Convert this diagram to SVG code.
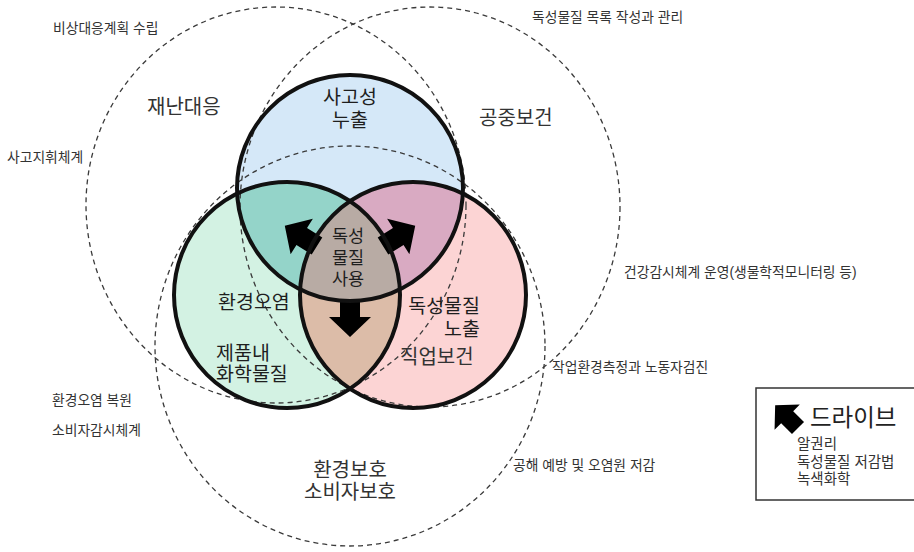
<svg xmlns="http://www.w3.org/2000/svg" width="914" height="552" viewBox="0 0 914 552">
<style>
text{font-family:"Liberation Sans","Noto Sans CJK KR",sans-serif;}
.sm{font-size:13.8px;fill:#333;}
.lg{font-size:20px;fill:#333;}
.in{font-size:19.5px;fill:#1e1e1e;}
.dash{fill:none;stroke:#3a3a3a;stroke-width:1.3;stroke-dasharray:5 4;}
.ring{fill:none;stroke:#111;stroke-width:4;}
.arr{fill:#000;}
</style>
<defs>
<clipPath id="cTop"><circle cx="350" cy="188" r="113"/></clipPath>
<clipPath id="cLeft"><circle cx="287" cy="295" r="113"/></clipPath>
<clipPath id="cRight"><circle cx="413" cy="295" r="113"/></clipPath>
<polygon id="arrow" points="0,-10 18,-10 18,-21 38,0 18,21 18,10 0,10"/>
</defs>
<rect width="914" height="552" fill="#fff"/>

<g id="fills">
<circle cx="350" cy="188" r="113" fill="#d5e8f8"/>
<circle cx="287" cy="295" r="113" fill="#d3f2e3"/>
<circle cx="413" cy="295" r="113" fill="#fcd4d4"/>
<circle cx="287" cy="295" r="113" fill="#94d4c9" clip-path="url(#cTop)"/>
<circle cx="413" cy="295" r="113" fill="#d9aac2" clip-path="url(#cTop)"/>
<circle cx="413" cy="295" r="113" fill="#dcbca8" clip-path="url(#cLeft)"/>
<g clip-path="url(#cTop)"><circle cx="413" cy="295" r="113" fill="#b8aba4" clip-path="url(#cLeft)"/></g>
</g>

<g id="dashed-circles">
<ellipse id="disaster" class="dash" cx="276" cy="205" rx="190" ry="198"/>
<ellipse id="public-health" class="dash" cx="430" cy="207" rx="190" ry="200"/>
<ellipse id="env-protection" class="dash" cx="350" cy="346" rx="195" ry="200"/>
</g>

<g id="connectors">
<use href="#arrow" class="arr" transform="translate(350,299) rotate(90)"/>
<use href="#arrow" class="arr" transform="translate(317,246) rotate(-148)"/>
<use href="#arrow" class="arr" transform="translate(383,246) rotate(-32)"/>
</g>

<g id="rings">
<circle class="ring" cx="350" cy="188" r="113"/>
<circle class="ring" cx="287" cy="295" r="113"/>
<circle class="ring" cx="413" cy="295" r="113"/>
</g>

<g id="node-accident">
<text class="in" x="350" y="104" text-anchor="middle">사고성<tspan x="350" dy="23">누출</tspan></text>
</g>
<g id="node-use">
<text class="in" x="348" y="242" text-anchor="middle" style="font-size:17.5px">독성<tspan x="348" dy="22">물질</tspan><tspan x="348" dy="21">사용</tspan></text>
</g>
<g id="node-env-pollution">
<text class="in" x="218" y="309">환경오염</text>
<text class="in" x="216" y="360">제품내<tspan x="216" dy="21">화학물질</tspan></text>
</g>
<g id="node-exposure">
<text class="in" x="480" y="313" text-anchor="end">독성물질<tspan x="480" dy="23">노출</tspan></text>
</g>
<g id="node-disaster">
<text class="lg" x="147" y="114">재난대응</text>
<text class="sm" x="53" y="33">비상대응계획 수립</text>
<text class="sm" x="7" y="162">사고지휘체계</text>
</g>
<g id="node-public-health">
<text class="lg" x="479" y="125">공중보건</text>
<text class="sm" x="532" y="22">독성물질 목록 작성과 관리</text>
<text class="sm" x="624" y="277">건강감시체계 운영(생물학적모니터링 등)</text>
</g>
<g id="node-occupational">
<text class="lg" x="400" y="364">직업보건</text>
<text class="sm" x="552" y="372">작업환경측정과 노동자검진</text>
</g>
<g id="node-env-protection">
<text class="lg" x="350" y="477" text-anchor="middle">환경보호<tspan x="350" dy="22">소비자보호</tspan></text>
<text class="sm" x="52" y="405">환경오염 복원</text>
<text class="sm" x="52" y="435">소비자감시체계</text>
<text class="sm" x="513" y="470">공해 예방 및 오염원 저감</text>
</g>

<g id="legend">
<rect x="756" y="388" width="162" height="112" fill="#fff" stroke="#333" stroke-width="1.5"/>
<use href="#arrow" class="arr" transform="translate(798,428) rotate(-135) scale(0.85)"/>
<text x="810" y="426" style="font-size:23.5px;fill:#222">드라이브</text>
<text class="sm" x="797" y="449" style="font-size:14.5px">알권리<tspan x="797" dy="18">독성물질 저감법</tspan><tspan x="797" dy="17">녹색화학</tspan></text>
</g>
</svg>
